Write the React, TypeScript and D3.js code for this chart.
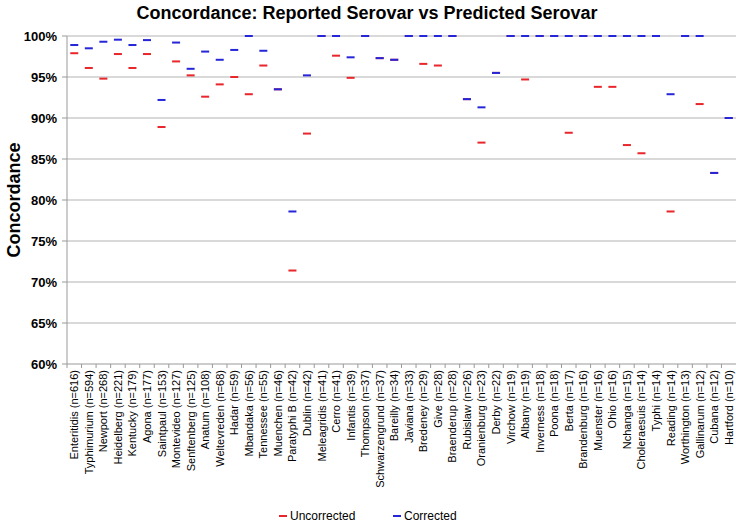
import React from 'react';
import * as d3 from 'd3';

const serovars = [
  'Enteritidis (n=616)', 'Typhimurium (n=594)', 'Newport (n=268)', 'Heidelberg (n=221)',
  'Kentucky (n=179)', 'Agona (n=177)', 'Saintpaul (n=153)', 'Montevideo (n=127)',
  'Senftenberg (n=125)', 'Anatum (n=108)', 'Weltevreden (n=68)', 'Hadar (n=59)',
  'Mbandaka (n=56)', 'Tennessee (n=55)', 'Muenchen (n=46)', 'Paratyphi B (n=42)',
  'Dublin (n=42)', 'Meleagridis (n=41)', 'Cerro (n=41)', 'Infantis (n=39)',
  'Thompson (n=37)', 'Schwarzengrund (n=37)', 'Bareilly (n=34)', 'Javiana (n=33)',
  'Bredeney (n=29)', 'Give (n=28)', 'Braenderup (n=28)', 'Rubislaw (n=26)',
  'Oranienburg (n=23)', 'Derby (n=22)', 'Virchow (n=19)', 'Albany (n=19)',
  'Inverness (n=18)', 'Poona (n=18)', 'Berta (n=17)', 'Brandenburg (n=16)',
  'Muenster (n=16)', 'Ohio (n=16)', 'Nchanga (n=15)', 'Choleraesuis (n=14)',
  'Typhi (n=14)', 'Reading (n=14)', 'Worthington (n=13)', 'Gallinarum (n=12)',
  'Cubana (n=12)', 'Hartford (n=10)',
];

// values, in percent
const uncorrected = [
  97.9, 96.1, 94.8, 97.8, 96.1, 97.8, 88.9, 96.9, 95.2, 92.6, 94.1, 95.0,
  92.9, 96.4, 93.5, 71.4, 88.1, 100, 97.6, 94.9, 100, 97.3, 97.1, 100,
  96.6, 96.4, 100, 92.3, 87.0, 95.5, 100, 94.7, 100, 100, 88.2, 100,
  93.8, 93.8, 86.7, 85.7, 100, 78.6, 100, 91.7, 83.3, 90.0,
];

const corrected = [
  98.9, 98.5, 99.3, 99.55, 98.9, 99.5, 92.2, 99.2, 96.0, 98.1, 97.1, 98.3,
  100, 98.2, 93.5, 78.6, 95.2, 100, 100, 97.4, 100, 97.3, 97.1, 100,
  100, 100, 100, 92.3, 91.3, 95.5, 100, 100, 100, 100, 100, 100,
  100, 100, 100, 100, 100, 92.9, 100, 100, 83.3, 90.0,
];

const yTicks = [60, 65, 70, 75, 80, 85, 90, 95, 100];

const W = 736, H = 522;
const left = 67, right = 736, top = 36, bottom = 364;
const font = 'Liberation Sans, Arial, sans-serif';

export default function App() {
  const x = d3.scaleBand<string>().domain(serovars).range([left, right]);
  const y = d3.scaleLinear().domain([60, 100]).range([bottom, top]);
  const dashW = 8;

  const series = [
    { name: 'Uncorrected', values: uncorrected, color: '#e8262b' },
    { name: 'Corrected', values: corrected, color: '#2626d9' },
  ];

  return (
    <svg width={W} height={H} style={{ position: 'absolute', left: 0, top: 0 }} fontFamily={font}>
      <rect width={W} height={H} fill="#fff" />
      <text x={367} y={19} textAnchor="middle" fontSize={18} fontWeight="bold" fill="#000">
        Concordance: Reported Serovar vs Predicted Serovar
      </text>

      {/* grid + y axis */}
      {yTicks.map(t => (
        <g key={t}>
          {t > 60 && <line x1={left} x2={right} y1={y(t)} y2={y(t)} stroke="#b3b3b3" strokeWidth={1.2} />}
          <line x1={left - 5} x2={left} y1={y(t)} y2={y(t)} stroke="#999" />
          <text x={57} y={y(t)} dy="0.35em" textAnchor="end" fontSize={13} fontWeight="bold">{t}%</text>
        </g>
      ))}
      <line x1={left} x2={left} y1={top} y2={bottom} stroke="#999" />
      <line x1={left} x2={right} y1={bottom} y2={bottom} stroke="#999" />
      {serovars.map(s => (
        <line key={s} x1={x(s)!} x2={x(s)!} y1={bottom} y2={bottom + 4} stroke="#999" />
      ))}

      <text transform={`translate(20,${(top + bottom) / 2}) rotate(-90)`} textAnchor="middle"
        fontSize={18} fontWeight="bold">Concordance</text>

      {/* x labels */}
      {serovars.map(s => (
        <text key={s} transform={`translate(${x(s)! + x.bandwidth() / 2 + 4},${bottom + 6}) rotate(-90)`}
          textAnchor="end" fontSize={11} fill="#000">{s}</text>
      ))}

      {/* marks */}
      {series.map(se => (
        <g key={se.name}>
          {se.values.map((v, i) => (
            <rect key={i} x={x(serovars[i])! + x.bandwidth() / 2 - dashW / 2} y={y(v) - 1}
              width={dashW} height={2} fill={se.color} />
          ))}
        </g>
      ))}

      {/* legend */}
      {series.map((se, i) => {
        const lx = i === 0 ? 279 : 393;
        return (
          <g key={se.name}>
            <rect x={lx} y={515} width={8} height={2} fill={se.color} />
            <text x={lx + 11} y={516} dy="0.35em" fontSize={12}>{se.name}</text>
          </g>
        );
      })}
    </svg>
  );
}
